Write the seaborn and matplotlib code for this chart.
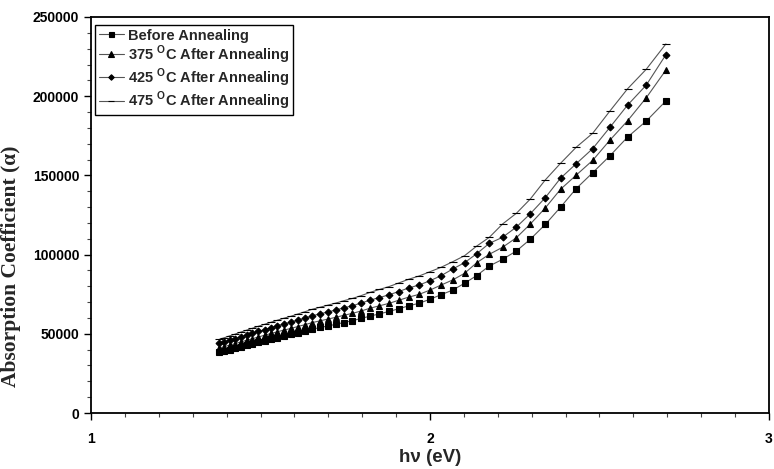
"""Absorption coefficient vs photon energy, before and after annealing."""

import matplotlib

matplotlib.use("Agg")
import matplotlib.pyplot as plt
import pandas as pd
import seaborn as sns
from matplotlib.ticker import MultipleLocator

# photon energy (eV), same grid for all four samples
hv = [
    1.378, 1.393, 1.409, 1.425, 1.442, 1.459, 1.476, 1.494, 1.512, 1.531,
    1.550, 1.570, 1.590, 1.610, 1.632, 1.653, 1.676, 1.699, 1.722, 1.746,
    1.771, 1.797, 1.824, 1.851, 1.879, 1.908, 1.938, 1.968, 2.000, 2.033,
    2.067, 2.102, 2.138, 2.175, 2.214, 2.255, 2.296, 2.340, 2.385, 2.431,
    2.480, 2.531, 2.583, 2.638, 2.696,
]

before = [
    38200, 39000, 39900, 40800, 41700, 42700, 43600, 44600, 45600, 46600,
    47600, 48600, 49600, 50600, 51800, 52900, 54000, 54900, 56000, 57100,
    58300, 59700, 61200, 62600, 64100, 65800, 67700, 69300, 71800, 74700,
    77600, 81900, 86800, 92800, 97000, 102300, 109700, 119000, 129900, 141600,
    151700, 162400, 174200, 184300, 197000,
]
after_375 = [
    41000, 41900, 42900, 43800, 44900, 45900, 46900, 48000, 49100, 50200,
    51300, 52400, 53400, 54600, 55800, 57100, 58200, 59300, 60400, 61700,
    62900, 64400, 66200, 67700, 69200, 71200, 73200, 74900, 77600, 80800,
    84000, 88200, 94900, 100200, 104600, 110700, 119300, 129400, 141200, 150100,
    159500, 172300, 184500, 199000, 216500,
]
after_425 = [
    43900, 44900, 45900, 47000, 48100, 49200, 50400, 51500, 52700, 53900,
    55100, 56300, 57400, 58700, 60000, 61400, 62600, 63800, 65000, 66400,
    67700, 69400, 71300, 72900, 74600, 76700, 79000, 80800, 83500, 86700,
    90900, 94900, 100600, 107100, 110900, 117400, 125800, 135900, 148200, 157300,
    166900, 180400, 194400, 207000, 226200,
]
after_475 = [
    46500, 47500, 48700, 49800, 51100, 52300, 53500, 54800, 56000, 57300,
    58600, 59900, 61100, 62500, 64000, 65500, 66800, 68100, 69400, 70900,
    72300, 74100, 76200, 78000, 79800, 82100, 84500, 86500, 89200, 92000,
    95500, 99300, 105400, 110900, 119300, 126100, 135100, 147100, 157600, 167700,
    176600, 190700, 204700, 217000, 233000,
]

labels = [
    "Before Annealing",
    "375 $^{\\mathregular{O}}$C After Annealing",
    "425 $^{\\mathregular{O}}$C After Annealing",
    "475 $^{\\mathregular{O}}$C After Annealing",
]
series = [before, after_375, after_425, after_475]
markers = ["s", "^", "D", "_"]
marker_sizes = [4.5, 5, 3.5, 6]

sns.set_style("ticks")
plt.rcParams["font.family"] = ["Liberation Sans", "DejaVu Sans"]
plt.rcParams["mathtext.fontset"] = "custom"
plt.rcParams["mathtext.rm"] = "Liberation Sans:bold"

fig = plt.figure(figsize=(7.74, 4.69), dpi=100)
ax = fig.add_axes([0.1176, 0.1194, 0.8759, 0.8444])

for vals, label, mk, ms in zip(series, labels, markers, marker_sizes):
    frame = pd.DataFrame({"hv": hv, "alpha": vals})
    sns.lineplot(
        data=frame, x="hv", y="alpha", ax=ax, color="#555555", linewidth=0.8,
        marker=mk, markersize=ms, markerfacecolor="black",
        markeredgecolor="black", markeredgewidth=0.8, label=label,
    )

ax.set_xlim(1, 3)
ax.set_ylim(0, 250000)
ax.xaxis.set_major_locator(MultipleLocator(1))
ax.xaxis.set_minor_locator(MultipleLocator(0.1))
ax.yaxis.set_major_locator(MultipleLocator(50000))
ax.yaxis.set_minor_locator(MultipleLocator(10000))
ax.tick_params(which="major", direction="out", length=5, width=1, colors="black")
ax.tick_params(which="minor", direction="out", length=3, width=0.8, colors="#444444")
ax.tick_params(axis="x", which="major", pad=9)
for lbl in ax.get_xticklabels() + ax.get_yticklabels():
    lbl.set_fontweight("bold")
    lbl.set_fontsize(10)
for side in ["left", "bottom", "right", "top"]:
    ax.spines[side].set_visible(True)
    ax.spines[side].set_color("black")
    ax.spines[side].set_linewidth(1.3)

ax.set_xlabel("h\u03bd (eV)", fontsize=13.5, fontweight="bold", labelpad=2)
ax.set_ylabel(
    "Absorption Coefficient (\u03b1)", fontsize=15.5, fontweight="bold",
    family=["Liberation Serif", "DejaVu Serif"],
)
ax.yaxis.set_label_coords(-0.103, 0.37)

leg = ax.legend(
    loc="upper left", bbox_to_anchor=(0.006, 0.98), borderaxespad=0,
    frameon=True, fancybox=False, edgecolor="black", framealpha=1,
    handlelength=1.7, handletextpad=0.3, borderpad=0.25, labelspacing=0.05,
    prop={"weight": "bold", "size": 10.5}, markerscale=0.8,
)
leg.get_frame().set_linewidth(1.0)

fig.savefig("out.png", dpi=100)
